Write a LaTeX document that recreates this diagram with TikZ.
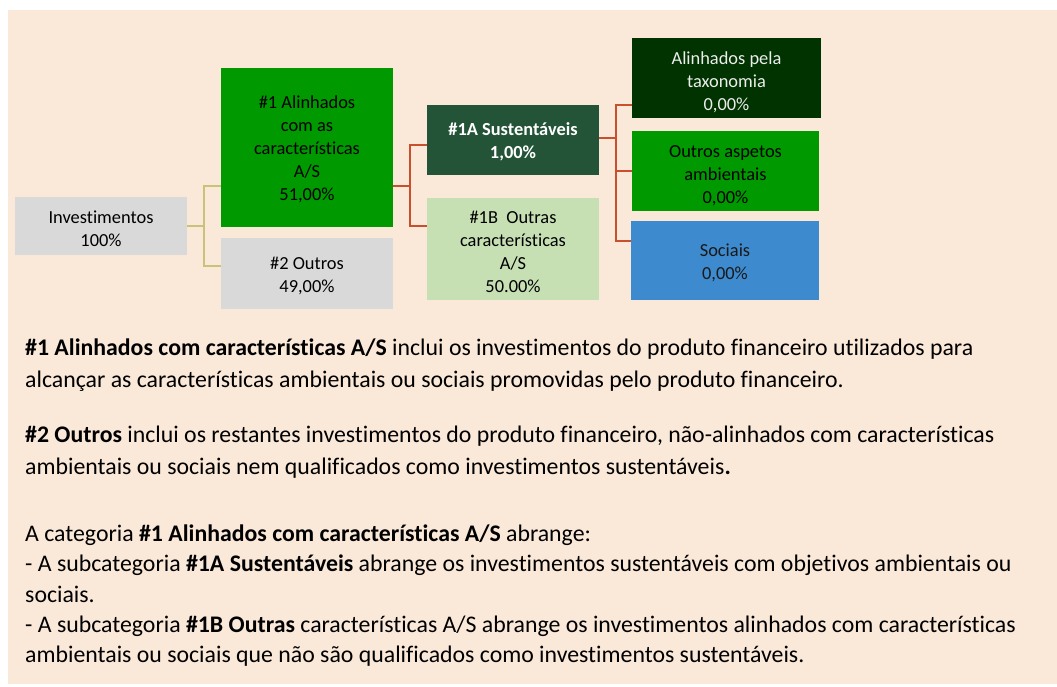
\documentclass[tikz,border=0pt]{standalone}
\usepackage{fontspec}
\setmainfont{Carlito}[Ligatures=NoCommon]
\definecolor{beige}{HTML}{FAE8D8}
\definecolor{boxgrey}{HTML}{D9D9D9}
\definecolor{midgreen}{HTML}{009900}
\definecolor{darkgreen}{HTML}{245438}
\definecolor{deepgreen}{HTML}{003300}
\definecolor{lightgreen}{HTML}{C6E0B4}
\definecolor{socblue}{HTML}{3D8ACE}
\definecolor{yelline}{HTML}{C9C27A}
\definecolor{redline}{HTML}{C8502E}
\definecolor{lighttext}{HTML}{EDEDED}
\tikzset{
  cat/.style={rectangle, inner sep=0pt},
  lbl/.style={inner sep=0pt, align=center, font=\fontsize{18.4}{23}\selectfont, text=black},
  ylink/.style={draw=yelline, line width=2pt},
  rlink/.style={draw=redline, line width=2pt},
  txt/.style={anchor=base west, inner sep=0pt, font=\fontsize{23.8}{31}\selectfont, text=black}
}
\begin{document}
\begin{tikzpicture}[x=1pt,y=-1pt]
\useasboundingbox (0,0) rectangle (1057,686);
\fill[white] (0,0) rectangle (1057,686);
\fill[beige] (8,10) rectangle (1057,684);
% boxes
\node[cat, fill=boxgrey, minimum width=172pt, minimum height=58pt] (inv) at (101,226) {};
\node[cat, fill=midgreen, minimum width=172pt, minimum height=159pt] (a1) at (307,147.5) {};
\node[cat, fill=boxgrey, minimum width=172pt, minimum height=71pt] (o2) at (307,273.5) {};
\node[cat, fill=darkgreen, minimum width=172pt, minimum height=70pt] (s1a) at (513,140) {};
\node[cat, fill=lightgreen, minimum width=172pt, minimum height=102pt] (o1b) at (513,248.5) {};
\node[cat, fill=deepgreen, minimum width=189pt, minimum height=80pt] (tax) at (726.5,78) {};
\node[cat, fill=midgreen, minimum width=187pt, minimum height=80pt] (amb) at (725.5,171) {};
\node[cat, fill=socblue, minimum width=188pt, minimum height=79pt] (soc) at (725,260.5) {};
% box texts
\node[lbl] (inv-t) at ([yshift=-3pt]inv.center) {Investimentos\\100\%};
\node[lbl] (a1-t) at ([yshift=-2pt]a1.center) {\#1 Alinhados\\com as\\características\\A/S\\51,00\%};
\node[lbl] (o2-t) at ([yshift=-2.5pt]o2.center) {\#2 Outros\\49,00\%};
\node[lbl, text=white, font=\fontsize{18.4}{23}\selectfont\bfseries] (s1a-t) at ([yshift=-1.5pt]s1a.center) {\#1A Sustentáveis\\1,00\%};
\node[lbl] (o1b-t) at ([yshift=-3.5pt]o1b.center) {\#1B\ \ Outras\\características\\A/S\\50.00\%};
\node[lbl, text=lighttext] (tax-t) at ([yshift=-4pt]tax.center) {Alinhados pela\\taxonomia\\0,00\%};
\node[lbl] (amb-t) at ([yshift=-4.5pt]amb.center) {Outros aspetos\\ambientais\\0,00\%};
\node[lbl, text=black!90] (soc-t) at ([yshift=-2pt]soc.center) {Sociais\\0,00\%};
% connectors
\coordinate (j1) at (204,226);
\coordinate (j2) at (410,186);
\coordinate (j3) at (616,138);
\draw[ylink] (inv.east |- j1) -- (j1);
\draw[ylink] (a1.west |- 0,186) -| (j1) |- (o2.west |- 0,266);
\draw[rlink] (a1.east |- j2) -- (j2);
\draw[rlink] (s1a.west |- 0,145) -| (j2) |- (o1b.west |- 0,226);
\draw[rlink] (s1a.east |- j3) -- (j3);
\draw[rlink] (tax.west |- 0,105) -| (j3) |- (soc.west |- 0,241);
\draw[rlink] (j3 |- 0,171) -- (amb.west |- 0,171);
% text
\node[txt] (t1) at (25,355) {\textbf{\#1 Alinhados com características A/S} inclui os investimentos do produto financeiro utilizados para};
\node[txt] (t2) at (25,387) {alcançar as características ambientais ou sociais promovidas pelo produto financeiro.};
\node[txt] (t3) at (25,442) {\textbf{\#2 Outros} inclui os restantes investimentos do produto financeiro, não-alinhados com características};
\node[txt] (t4) at (25,474) {ambientais ou sociais nem qualificados como investimentos sustentáveis\textbf{.}};
\node[txt] (t5) at (25,541) {A categoria \textbf{\#1 Alinhados com características A/S} abrange:};
\node[txt] (t6) at (25,571) {- A subcategoria \textbf{\#1A Sustentáveis} abrange os investimentos sustentáveis com objetivos ambientais ou};
\node[txt] (t7) at (25,602) {sociais.};
\node[txt] (t8) at (25,632) {- A subcategoria \textbf{\#1B Outras} características A/S abrange os investimentos alinhados com características};
\node[txt] (t9) at (25,662) {ambientais ou sociais que não são qualificados como investimentos sustentáveis.};
\end{tikzpicture}
\end{document}
